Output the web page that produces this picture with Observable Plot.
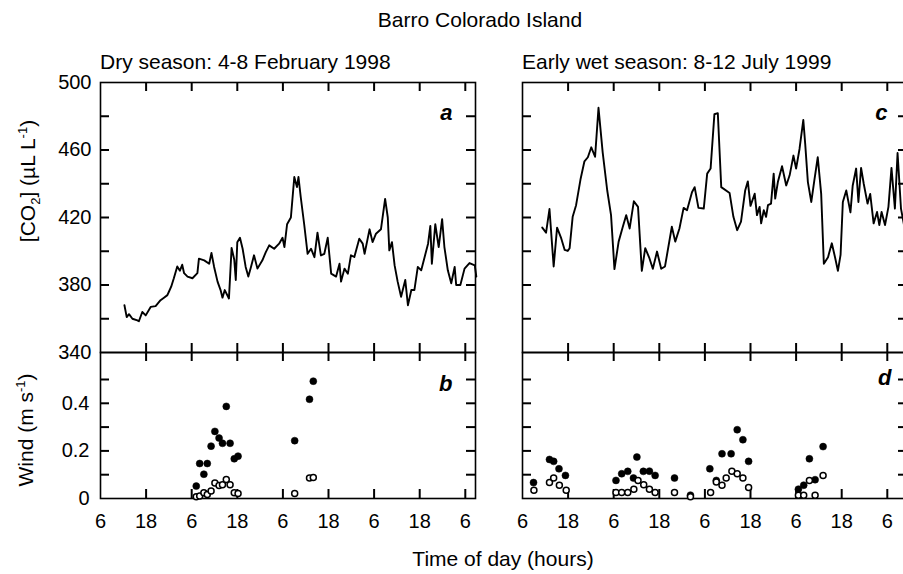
<!DOCTYPE html>
<html><head><meta charset="utf-8">
<script src="https://cdn.jsdelivr.net/npm/d3@7"></script>
<script src="https://cdn.jsdelivr.net/npm/@observablehq/plot@0.6"></script>
<style>
html,body{margin:0;padding:0;background:#fff;overflow:hidden;}
#fig{position:relative;width:903px;height:574px;overflow:hidden;font-family:"Liberation Sans",Arial,Helvetica,sans-serif;color:#000;background:#fff;}
.abs{position:absolute;white-space:nowrap;}
.rot{transform:translate(-50%,-50%) rotate(-90deg);}
sub,sup{font-size:0.62em;line-height:0;}
svg{max-width:none !important;}
</style></head><body><div id="fig"></div>
<script>
// ---- data (hours since 06:00 of first day) ----
const dryCO2Hours = [6.3,6.9,7.5,8.4,9.7,10.1,11.0,11.9,13.2,14.5,15.8,16.7,17.6,18.0,18.6,19.3,20.2,20.9,21.5,22.0,22.9,24.2,25.5,25.9,27.3,28.6,29.2,29.9,30.8,31.6,32.1,32.7,33.8,34.5,35.2,35.6,36.0,36.7,37.4,38.2,38.9,39.6,40.4,41.3,42.6,43.5,44.4,45.7,47.0,47.9,48.4,49.1,50.1,51.0,51.7,52.1,52.7,53.6,54.5,55.4,56.3,57.1,58.0,58.9,59.8,60.7,62.0,62.9,63.3,64.2,65.1,65.9,66.8,68.1,69.0,69.5,70.8,71.6,72.5,73.8,74.9,75.6,76.0,76.7,77.4,78.2,79.1,80.2,80.9,81.8,82.6,83.5,84.4,85.3,86.2,86.8,87.2,88.1,89.0,89.9,90.5,91.4,92.3,93.2,93.6,94.7,95.8,97.1,98.5,98.9];
const dryCO2 = [368,361,362.7,360,359,358.5,364,362,367,367.5,371,372.5,374,376,379,384,391,388.5,392,387,385,384,387,395.6,394.6,392.6,399,390.7,382,377,372.5,377,372,402,395,383,405.4,408,401.5,390.7,385,390.7,397.6,389.7,394.6,399.5,403.5,401.5,404.5,408,402.5,416,420,444,438,444,432,416,398.5,401.5,396.5,411,397.5,398.5,408,386.7,385,392.6,382,389.7,386.7,397.6,396.6,407.4,404.5,398.5,413,405.4,410.4,413,431,420,400.5,405.4,391.6,382,373,383,368,377,377,390.7,388.7,396.6,404.5,415,392.6,416,402.5,419,402.5,388.7,381,390.7,380,380,389.7,393,391.6,385];

const wetCO2Hours = [5.2,6.2,7.1,8.2,9.1,10.2,11.1,11.9,12.4,13.2,14.1,15.3,16.3,17.2,18.1,19.1,20.0,21.1,22.3,23.3,24.2,25.3,26.4,27.3,28.2,29.3,30.4,31.4,32.3,33.4,34.3,35.4,36.5,37.5,39.3,40.2,41.3,42.4,43.3,44.6,45.3,46.3,47.7,48.6,49.5,50.5,51.4,52.3,54.5,55.5,56.5,57.5,58.6,59.3,60.0,61.1,61.7,62.4,62.8,63.5,64.1,64.6,65.4,66.1,66.5,67.2,68.3,69.4,70.3,71.3,72.0,72.9,73.9,74.4,75.1,76.0,76.8,77.7,78.6,79.3,80.4,81.4,82.3,83.0,83.7,84.3,85.2,86.3,86.9,87.8,88.4,89.1,89.8,90.8,91.5,92.4,93.3,93.9,94.5,95.4,96.3,97.1,98.0,98.7,99.6,100.4];
const wetCO2 = [414,411,425,391,414,407.6,400.8,400.2,401.8,420.4,427.3,443,453.3,455.7,461.6,456,485,458.6,436,421.4,389.4,405.7,414.5,421.4,413.5,429.6,426.3,388.4,401.8,395.9,389.6,399.8,389.6,391,414.5,405.7,413.5,425.7,424.3,435,438,425.7,425.3,446,449,481.2,481.8,438,434.5,420.4,412.5,417.5,436,441.4,426.9,434.1,421.4,426.3,416.5,424.3,420.4,427.3,428.2,446,431.2,441,450.4,439,445,456.7,449,460.6,477.8,463.5,441,429.2,442,455.7,434,392.6,396.5,404.7,395.9,388.4,397.8,429.2,436,423,439,449,429.2,449.4,440,428.2,434,416.5,423.3,415.5,423.3,415.5,426.3,449.4,425.3,458.2,425.3,415.5];

const dryWindHours = [25.2,26.1,27.2,28.1,29.1,30.1,31.2,32.1,33.1,34.1,35.2,36.2,51.1,55.0,56.0];
const dryWindFilled = [0.052,0.147,0.102,0.147,0.22,0.282,0.254,0.232,0.387,0.232,0.167,0.178,0.243,0.417,0.493];
const dryWindOpen = [0.007,0.011,0.024,0.017,0.032,0.065,0.055,0.058,0.08,0.058,0.024,0.021,0.021,0.086,0.088];

const wetWindFilledHours = [2.9,7.1,8.2,9.6,11.3,24.6,26.1,27.7,29.2,30.1,31.8,33.4,34.9,40.0,44.2,49.3,51.0,52.5,54.9,56.5,58.0,59.5,72.6,74.0,75.5,77.0,79.1];
const wetWindFilled = [0.067,0.164,0.156,0.125,0.097,0.076,0.104,0.114,0.086,0.174,0.114,0.115,0.097,0.086,0.014,0.125,0.076,0.188,0.188,0.289,0.247,0.156,0.039,0.056,0.167,0.079,0.218];
const wetWindOpenHours = [3.0,7.1,8.2,9.7,11.5,24.6,26.1,27.7,29.3,30.4,31.9,33.4,34.9,40.0,44.2,49.5,51.0,52.5,53.6,55.1,56.5,58.0,59.5,72.6,74.0,75.5,77.0,79.1];
const wetWindOpen = [0.035,0.067,0.086,0.056,0.035,0.025,0.025,0.025,0.039,0.076,0.058,0.039,0.025,0.025,0.007,0.025,0.069,0.056,0.086,0.114,0.104,0.086,0.046,0.014,0.014,0.076,0.014,0.097];

const hourTicks = [12,24,36,48,60,72,84,96];
const hourLabelAt = [0,12,24,36,48,60,72,84,96];
const hourTickLabels = ["6","18","6","18","6","18","6","18","6"];
const co2Ticks = [360,380,400,420,440,460,480];
const co2Labels = [340,380,420,460,500];
const windTicks = [0.1,0.2,0.3,0.4,0.5];
const windLabels = [0,0.2,0.4];
const windLabelText = ["0","0.2","0.4"];

// ---- layout helpers ----
const fig = document.getElementById("fig");
const FONT = "Liberation Sans, Arial, Helvetica, sans-serif";
function place(node, left, top){ const d=document.createElement("div"); d.className="abs"; d.style.left=left+"px"; d.style.top=top+"px"; d.style.width=node.getAttribute("width")+"px"; d.appendChild(node); fig.appendChild(d); }
function html(s, left, top, cls, size){ const d=document.createElement("div"); d.className="abs "+(cls||""); d.style.left=left+"px"; d.style.top=top+"px"; d.style.fontSize=(size||21)+"px"; d.innerHTML=s; fig.appendChild(d); return d; }

const PXH = 3.8;   // px per hour
const TL = 9;      // inward tick length (px)
function edgeTicks(fw, fh, yTicks){
  const o = {stroke:"#000", strokeWidth:2};
  return [
    Plot.tickX(hourTicks, {x:d=>d, insetTop: fh-TL, ...o}),
    Plot.tickX(hourTicks, {x:d=>d, insetBottom: fh-TL, ...o}),
    Plot.tickY(yTicks, {y:d=>d, insetRight: fw-TL, ...o}),
    Plot.tickY(yTicks, {y:d=>d, insetLeft: fw-TL, ...o})
  ];
}
function letter(s, dx, dy){
  return Plot.text([s], {frameAnchor:"top-right", text: d=>d, textAnchor:"end", lineAnchor:"middle", dx, dy, fontSize: 22, fontWeight:"bold", fontStyle:"italic"});
}
const baseStyle = {background:"transparent", fontFamily: FONT, fontSize:"20px", color:"#000", overflow:"visible", maxWidth:"none"};

function co2Panel(fw, hours, vals, showY, lab, ldx){
  const data = hours.map((h,i)=>({h, v: vals[i]}));
  const marks = [
    Plot.line(data, {x:"h", y:"v", stroke:"#000", strokeWidth:1.9, strokeLinejoin:"round"}),
    ...edgeTicks(fw, 270, co2Ticks),
    Plot.frame({stroke:"#000", strokeWidth:1.6}),
    letter(lab, ldx, 30)
  ];
  if (showY) marks.push(Plot.axisY({anchor:"left", ticks: co2Labels, tickSize: 0, tickPadding: 9, fontSize: 20, label: null}));
  return Plot.plot({
    width: 100+fw+20, height: 320, marginLeft:100, marginRight:20, marginTop:30, marginBottom:20,
    style: baseStyle,
    x:{domain:[0, fw/PXH], axis:null},
    y:{domain:[340, 500], ...(showY?{}:{axis:null})},
    marks
  });
}
function windPanel(fw, fHours, fVals, oHours, oVals, showY, lab, ldx, ldy){
  const fd = fHours.map((h,i)=>({h, v:fVals[i]}));
  const od = oHours.map((h,i)=>({h, v:oVals[i]}));
  const marks = [
    ...edgeTicks(fw, 146, windTicks),
    Plot.frame({stroke:"#000", strokeWidth:1.6}),
    Plot.dot(fd, {x:"h", y:"v", r:3.5, fill:"#000", stroke:"#000", strokeWidth:0.5}),
    Plot.dot(od, {x:"h", y:"v", r:3.0, fill:"#fff", stroke:"#000", strokeWidth:1.5}),
    Plot.axisX({anchor:"bottom", ticks: hourLabelAt, tickFormat: d=>hourTickLabels[hourLabelAt.indexOf(d)], tickSize:0, tickPadding:15, fontSize:20, label:null}),
    letter(lab, ldx, ldy)
  ];
  if (showY) marks.push(Plot.axisY({anchor:"left", ticks: windLabels, tickFormat: d=>windLabelText[windLabels.indexOf(d)], tickSize:0, tickPadding:11, fontSize:20, label:null}));
  return Plot.plot({
    width: 100+fw+20, height: 226, marginLeft:100, marginRight:20, marginTop:20, marginBottom:60,
    style: baseStyle,
    x:{domain:[0, fw/PXH]},
    y:{domain:[0, 146/238], ...(showY?{}:{axis:null})},
    marks
  });
}

place(co2Panel(375, dryCO2Hours, dryCO2, true, "a", -23), 0, 52);
place(windPanel(375, dryWindHours, dryWindFilled, dryWindHours, dryWindOpen, true, "b", -23, 31), 0, 332);
place(co2Panel(385, wetCO2Hours, wetCO2, false, "c", -20), 422, 52);
place(windPanel(385, wetWindFilledHours, wetWindFilled, wetWindOpenHours, wetWindOpen, false, "d", -16, 25), 422, 332);

// ---- texts ----
const t = html("Barro Colorado Island", 480, 20, "", 21); t.style.transform="translate(-50%,-50%)";
const s1 = html("Dry season: 4-8 February 1998", 100, 62, "", 21); s1.style.transform="translateY(-50%)";
const s2 = html("Early wet season: 8-12 July 1999", 522, 62, "", 21); s2.style.transform="translateY(-50%)";
html("[CO<sub>2</sub>] (&micro;L L<sup>-1</sup>)", 28, 181, "rot", 21);
html("Wind (m s<sup>-1</sup>)", 26, 430, "rot", 21);
const xt = html("Time of day (hours)", 503, 559, "", 21); xt.style.transform="translate(-50%,-50%)";
</script></body></html>
